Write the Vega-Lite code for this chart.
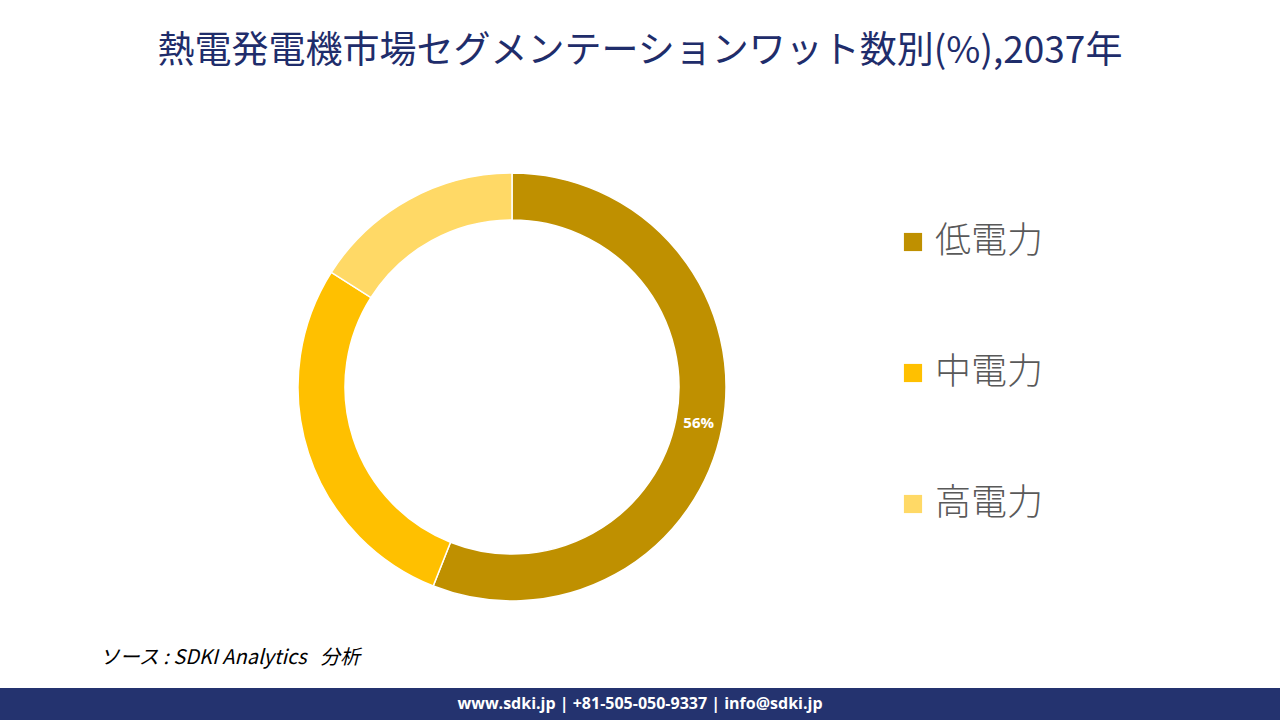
{
  "$schema": "https://vega.github.io/schema/vega-lite/v6.json",
  "width": 1280,
  "height": 720,
  "padding": 0,
  "autosize": {"type": "fit", "contains": "padding"},
  "background": "white",
  "config": {"view": {"stroke": null}},
  "datasets": {
    "segments": [
      {"category": "低電力", "idx": 1, "value": 56, "label": "56%"},
      {"category": "中電力", "idx": 2, "value": 28, "label": ""},
      {"category": "高電力", "idx": 3, "value": 16, "label": ""}
    ],
    "texts": [
      {"kind": "title", "text": "熱電発電機市場セグメンテーションワット数別(%),2037年"},
      {"kind": "source", "text": "ソース\u00a0: SDKI Analytics\u00a0\u00a0\u00a0分析"},
      {"kind": "footer", "text": "www.sdki.jp | +81-505-050-9337 | info@sdki.jp"}
    ]
  },
  "layer": [
    {
      "data": {"values": [{"band": "footer"}]},
      "mark": {"type": "rect", "color": "#24336F"},
      "encoding": {
        "x": {"datum": 0, "type": "quantitative", "scale": {"domain": [0, 1]}, "axis": null},
        "x2": {"datum": 1},
        "y": {"datum": 0.9556, "type": "quantitative", "scale": {"domain": [0, 1], "reverse": true}, "axis": null},
        "y2": {"datum": 1}
      }
    },
    {
      "data": {"name": "segments"},
      "mark": {"type": "arc", "outerRadius": 214, "innerRadius": 167, "stroke": "white", "strokeWidth": 1.5},
      "encoding": {
        "x": {"datum": 0.4, "type": "quantitative", "scale": {"domain": [0, 1]}, "axis": null},
        "y": {"datum": 0.5375, "type": "quantitative", "scale": {"domain": [0, 1], "reverse": true}, "axis": null},
        "theta": {"field": "value", "type": "quantitative", "stack": true},
        "order": {"field": "idx", "type": "quantitative"},
        "color": {
          "field": "category",
          "type": "nominal",
          "sort": ["低電力", "中電力", "高電力"],
          "scale": {"domain": ["低電力", "中電力", "高電力"], "range": ["#BF9000", "#FFC000", "#FFD966"]},
          "legend": {
            "title": null,
            "orient": "none",
            "legendX": 895,
            "legendY": 224,
            "symbolType": "square",
            "symbolSize": 330,
            "symbolStrokeWidth": 0,
            "labelFont": "Noto Sans CJK JP",
            "labelFontSize": 36,
            "labelFontWeight": 300,
            "labelColor": "#595959",
            "labelOffset": 4,
            "rowPadding": 95
          }
        }
      }
    },
    {
      "data": {"name": "segments"},
      "mark": {"type": "text", "radius": 190, "font": "Open Sans", "fontWeight": "bold", "fontSize": 15, "color": "white", "align": "center", "baseline": "middle"},
      "encoding": {
        "x": {"datum": 0.4, "type": "quantitative", "scale": {"domain": [0, 1]}, "axis": null},
        "y": {"datum": 0.5375, "type": "quantitative", "scale": {"domain": [0, 1], "reverse": true}, "axis": null},
        "theta": {"field": "value", "type": "quantitative", "stack": true},
        "order": {"field": "idx", "type": "quantitative"},
        "text": {"field": "label"}
      }
    },
    {
      "data": {"name": "texts"},
      "transform": [{"filter": "datum.kind == 'title'"}],
      "mark": {"type": "text", "font": "Noto Sans CJK JP", "fontSize": 37, "color": "#1F2D6B", "align": "center", "baseline": "middle"},
      "encoding": {
        "x": {"datum": 0.5, "type": "quantitative", "scale": {"domain": [0, 1]}, "axis": null},
        "y": {"datum": 0.072, "type": "quantitative", "scale": {"domain": [0, 1], "reverse": true}, "axis": null},
        "text": {"field": "text"}
      }
    },
    {
      "data": {"name": "texts"},
      "transform": [{"filter": "datum.kind == 'source'"}],
      "mark": {"type": "text", "font": "Noto Sans CJK JP", "fontSize": 20, "fontStyle": "italic", "color": "#000000", "align": "left", "baseline": "middle"},
      "encoding": {
        "x": {"datum": 0.078, "type": "quantitative", "scale": {"domain": [0, 1]}, "axis": null},
        "y": {"datum": 0.914, "type": "quantitative", "scale": {"domain": [0, 1], "reverse": true}, "axis": null},
        "text": {"field": "text"}
      }
    },
    {
      "data": {"name": "texts"},
      "transform": [{"filter": "datum.kind == 'footer'"}],
      "mark": {"type": "text", "font": "Open Sans", "fontWeight": "bold", "fontSize": 16, "color": "white", "align": "center", "baseline": "middle"},
      "encoding": {
        "x": {"datum": 0.5, "type": "quantitative", "scale": {"domain": [0, 1]}, "axis": null},
        "y": {"datum": 0.978, "type": "quantitative", "scale": {"domain": [0, 1], "reverse": true}, "axis": null},
        "text": {"field": "text"}
      }
    }
  ]
}
